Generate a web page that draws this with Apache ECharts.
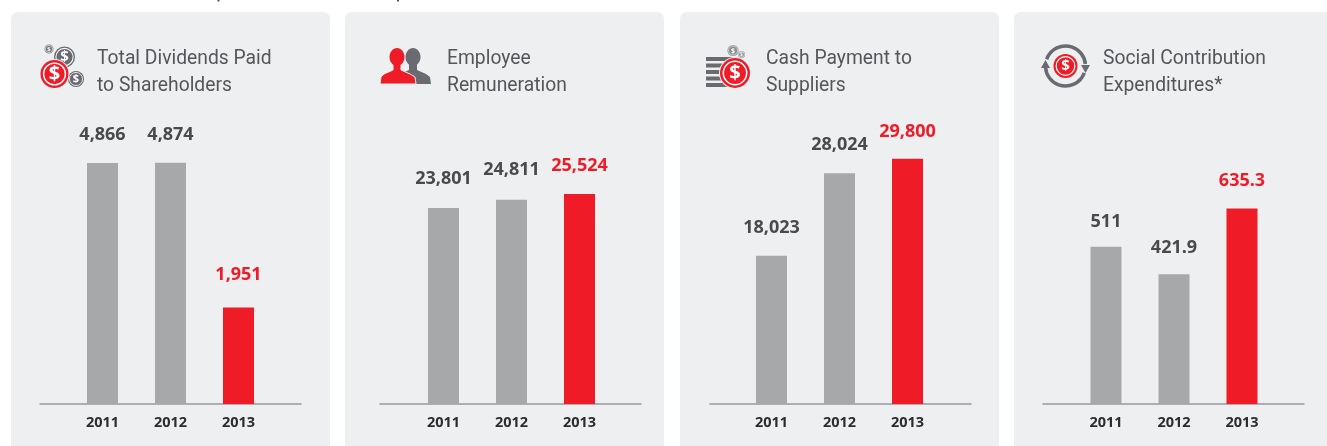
<!DOCTYPE html>
<html><head><meta charset="utf-8">
<style>html,body{margin:0;padding:0;background:#fff}#c{width:1327px;height:446px}</style>
<script src="https://cdn.jsdelivr.net/npm/echarts@6/dist/echarts.min.js"></script>
</head><body><div id="c"></div>
<script>
const years = ['2011','2012','2013'];
const dividends = [4866, 4874, 1951];
const remuneration = [23801, 24811, 25524];
const suppliers = [18023, 28024, 29800];
const social = [511, 421.9, 635.3];
const dividendLabels = ['4,866','4,874','1,951'];
const remunerationLabels = ['23,801','24,811','25,524'];
const supplierLabels = ['18,023','28,024','29,800'];
const socialLabels = ['511','421.9','635.3'];
const titles = ['Total Dividends Paid\nto Shareholders','Employee\nRemuneration','Cash Payment to\nSuppliers','Social Contribution\nExpenditures*'];

const RED='#ef1c28', GRAY='#a7a8aa', DARK='#6a6b70', TXT='#4a4a4d', PANEL='#eeeff1';
const panels=[
 {x:11,w:319,left:68.5,base:40,title:97,data:dividends,labels:dividendLabels,max:6060,gaps:[19,19,24]},
 {x:345,w:319,left:409.5,base:380,title:447,data:remuneration,labels:remunerationLabels,max:36450,gaps:[20,21,19]},
 {x:680,w:319,left:737.5,base:710,title:766,data:suppliers,labels:supplierLabels,max:36450,gaps:[19,19,18]},
 {x:1014,w:330,left:1072,base:1043,title:1103,data:social,labels:socialLabels,max:975,gaps:[16,17,19]}
];
const grid=[],xAxis=[],yAxis=[],series=[],title=[],graphic=[];
panels.forEach((p,i)=>{
  graphic.push({type:'rect',z:-1,silent:true,shape:{x:p.x,y:12,width:p.w,height:450,r:7},style:{fill:PANEL}});
  title.push({text:titles[i],left:p.title,top:46,padding:0,textStyle:{fontFamily:'Roboto',fontSize:19.3,fontWeight:'normal',color:'#55565a',lineHeight:27}});
  grid.push({left:p.base,width:261,top:104,height:300});
  xAxis.push({gridIndex:i*2,type:'category',data:[],axisLine:{show:true,lineStyle:{color:'#98999c',width:1.5}},axisTick:{show:false},axisLabel:{show:false}});
  yAxis.push({gridIndex:i*2,type:'value',show:false,min:0,max:1});
  grid.push({left:p.left,width:204,top:104,height:300});
  xAxis.push({gridIndex:i*2+1,type:'category',data:years,axisLine:{show:false},axisTick:{show:false},
    axisLabel:{margin:11,fontFamily:'"Open Sans"',fontWeight:'bold',fontSize:14.5,color:'#2c2c2e'}});
  yAxis.push({gridIndex:i*2+1,type:'value',show:false,min:0,max:p.max});
  series.push({type:'bar',xAxisIndex:i*2+1,yAxisIndex:i*2+1,barWidth:31,z:3,
    data:p.data.map((v,k)=>({value:v,itemStyle:{color:k===2?RED:GRAY},
      label:{show:true,position:'top',distance:p.gaps[k],formatter:p.labels[k],fontFamily:'"Open Sans"',fontWeight:'bold',fontSize:18,color:k===2?RED:TXT}}))});
});
function coin(cx,cy,r,fill,fs){
  return [
   {type:'circle',shape:{cx,cy,r},style:{fill}},
   {type:'circle',shape:{cx,cy,r:r*0.82},style:{fill:'none',stroke:'#fff',lineWidth:Math.max(0.6,r*0.1)}},
   {type:'text',style:{x:cx,y:cy,text:'$',align:'center',verticalAlign:'middle',fill:'#fff',font:'bold '+fs+'px "Noto Sans"'}}
  ];
}
function ring(cx,cy,r,fs){
  return [
   {type:'circle',shape:{cx,cy,r},style:{fill:RED}},
   {type:'circle',shape:{cx,cy,r:r*0.78},style:{fill:'none',stroke:'#fff',lineWidth:r*0.1}},
   {type:'text',style:{x:cx,y:cy,text:'$',align:'center',verticalAlign:'middle',fill:'#fff',font:'bold '+fs+'px "Noto Sans"'}}
  ];
}
function person(cx,halfL,halfR,fill,stroke){
  return [
   {type:'polygon',shape:{points:[[cx-4,64],[cx-4,70],[cx-13,74],[cx-halfL+1,77],[cx-halfL,84],[cx+halfR,84],[cx+halfR-1,77],[cx+13,74],[cx+4,70],[cx+4,64]]},style:{fill,stroke,lineWidth:stroke==='none'?0:1}},
   {type:'ellipse',shape:{cx,cy:57,rx:7.500,ry:9},style:{fill}}
  ];
}
const stripes=[57,63.500,70,76.500,83].map(y=>({type:'rect',shape:{x:706,y,width:26,height:4},style:{fill:DARK}}));
const arc=(cx,cy,r,a,b)=>({type:'arc',shape:{cx,cy,r,startAngle:a,endAngle:b,clockwise:true},style:{fill:'none',stroke:DARK,lineWidth:3.500}});
graphic.push(
 {type:'rect',shape:{x:217.500,y:0,width:2,height:1.500},style:{fill:'#555'}},
 {type:'rect',shape:{x:397,y:0,width:2,height:1.500},style:{fill:'#555'}},
 ...coin(49,49,4.500,'#77787c',6),...coin(64.500,57,10.500,DARK,15),...coin(76,79,8,DARK,11),
 {type:'circle',shape:{cx:54.500,cy:74,r:15},style:{fill:PANEL}},...ring(54.500,74,14,20),
 ...person(413,13,18,DARK,'none'),...person(397,17,19,RED,PANEL),
 ...stripes,...coin(733,50.500,5.500,'#8b8c90',7),...coin(741.500,54.500,3.500,'#8b8c90',5),
 {type:'circle',shape:{cx:735,cy:73,r:16},style:{fill:PANEL}},...ring(735,73,15,20),
 arc(1065.500,66,20,-2.800,-0.100),arc(1065.500,66,20,0.350,3.050),
 {type:'polygon',shape:{points:[[1081,65],[1090,65],[1085.500,73]]},style:{fill:DARK}},
 {type:'polygon',shape:{points:[[1041,68],[1050,68],[1045.500,60]]},style:{fill:DARK}},
 ...ring(1065.500,66,12,15)
);
const chart=echarts.init(document.getElementById('c'),null,{renderer:'canvas'});
chart.setOption({animation:false,backgroundColor:'#fff',title,grid,xAxis,yAxis,series,graphic:{elements:graphic}});
</script></body></html>
